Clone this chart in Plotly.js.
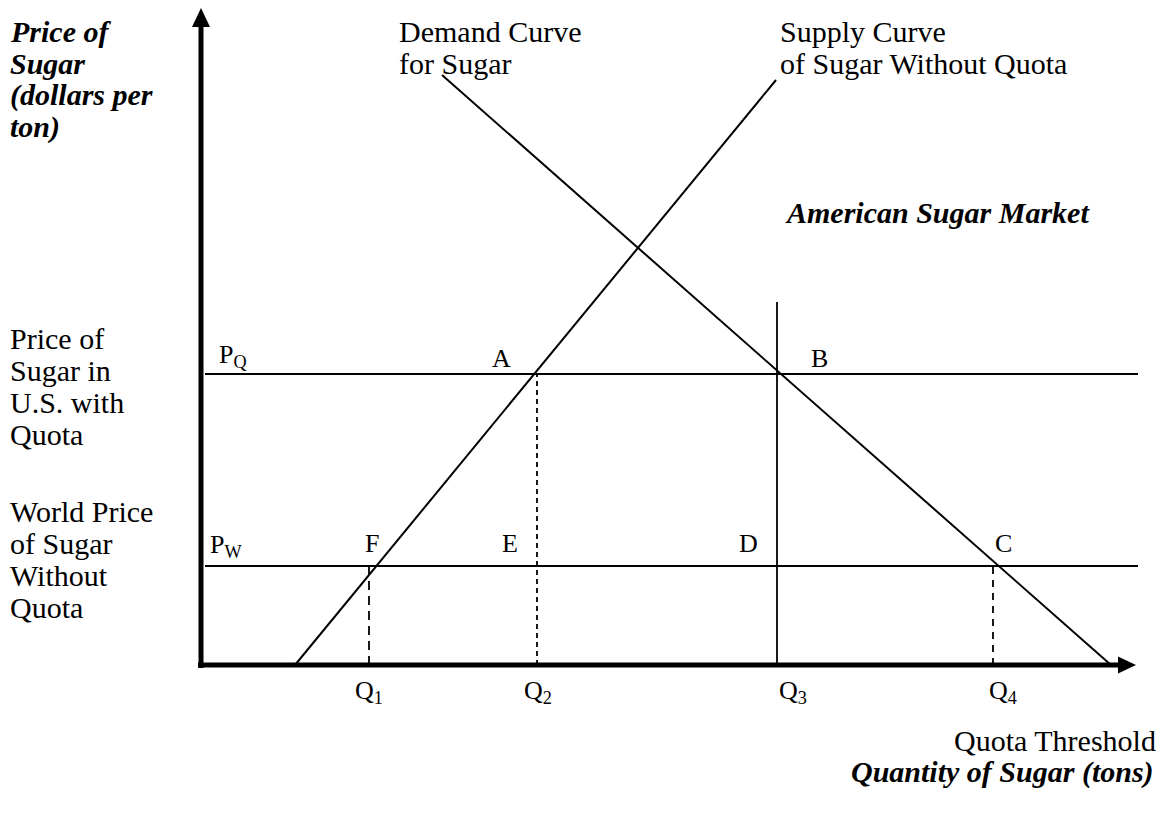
<!DOCTYPE html>
<html><head><meta charset="utf-8">
<script src="https://cdn.plot.ly/plotly-3.0.1.min.js"></script>
<style>html,body{margin:0;padding:0;background:#fff}#chart{width:1167px;height:813px}</style>
</head><body><div id="chart"></div>
<script>
// ---- data (chart units: quantity of sugar, price of sugar) ----
const quantityLabels = ['Q<sub>1</sub>', 'Q<sub>2</sub>', 'Q<sub>3</sub>', 'Q<sub>4</sub>'];
const quantities = [168, 336, 576, 792];
const priceLabels = ['P<sub>Q</sub>', 'P<sub>W</sub>'];
const prices = [291, 99];             // price with quota, world price
const supplyQ = [94, 575];
const supplyP = [0, 585];
const demandQ = [241, 910];
const demandP = [590, 0];
const priceLineQ = [4, 937];          // horizontal price lines span
const quotaThresholdTop = 363;        // top of vertical quota line at Q3
const axisMaxQ = 935, axisMaxP = 657;

const FONT = 'Liberation Serif, Times New Roman, serif';
const FS = 26;      // point / tick letters
const FS_T = 30;    // descriptive texts
const black = '#000';

const [Q1, Q2, Q3, Q4] = quantities;
const [PQ, PW] = prices;

function line(x, y, opts) {
  return Object.assign({type: 'scatter', mode: 'lines', x: x, y: y, hoverinfo: 'skip',
    line: {color: black, width: 1.8}, showlegend: false}, opts || {});
}

const traces = [
  line(supplyQ, supplyP, {line: {color: black, width: 2}}),
  line(demandQ, demandP, {line: {color: black, width: 2}}),
  line(priceLineQ, [PQ, PQ]),
  line(priceLineQ, [PW, PW]),
  line([Q3, Q3], [0, quotaThresholdTop]),
  line([Q1, Q1], [0, PW], {line: {color: black, width: 1.8, dash: '9px,6px'}}),
  line([Q2, Q2], [0, PQ], {line: {color: black, width: 1.8, dash: '5px,4px'}}),
  line([Q4, Q4], [0, PW], {line: {color: black, width: 1.8, dash: '7px,6px'}})
];

// pixel helpers for free text (layout only)
const X0 = 201, Y0 = 665;
const dx = px => px - X0;
const dy = py => Y0 - py;

function txt(text, x, y, xanchor, bold, size) {
  return {text: bold ? '<b><i>' + text + '</i></b>' : text, x: x, y: y, xref: 'x', yref: 'y',
    xanchor: xanchor || 'left', yanchor: 'middle', showarrow: false,
    font: {family: FONT, size: size || FS, color: black}};
}

const ann = [];
const LS = 32;
// vertical axis title
['Price of', 'Sugar', '(dollars per', 'ton)'].forEach((t, i) => ann.push(txt(t, dx(8), dy(31 + i * LS), 'left', true, FS_T)));
['Price of', 'Sugar in', 'U.S. with', 'Quota'].forEach((t, i) => ann.push(txt(t, dx(8), dy(338 + i * LS), 'left', false, FS_T)));
['World Price', 'of Sugar', 'Without', 'Quota'].forEach((t, i) => ann.push(txt(t, dx(8), dy(511 + i * LS), 'left', false, FS_T)));
ann.push(txt('Demand Curve', dx(397), dy(31), 'left', false, FS_T));
ann.push(txt('for Sugar', dx(397), dy(31 + LS), 'left', false, FS_T));
ann.push(txt('Supply Curve', dx(778), dy(31), 'left', false, FS_T));
ann.push(txt('of Sugar Without Quota', dx(778), dy(31 + LS), 'left', false, FS_T));
ann.push(txt('American Sugar Market', dx(783), dy(212), 'left', true, FS_T));
ann.push(txt('Quota Threshold', dx(1158), dy(740), 'right', false, FS_T));
ann.push(txt('Quantity of Sugar (tons)', dx(1156), dy(772), 'right', true, FS_T));

// point labels
ann.push(txt(priceLabels[0], 16, PQ + 18));
ann.push(txt(priceLabels[1], 7, PW + 20));
ann.push(txt('A', Q2 - 36, PQ + 16, 'center'));
ann.push(txt('B', Q3 + 42, PQ + 16, 'center'));
ann.push(txt('F', Q1 + 3, PW + 23, 'center'));
ann.push(txt('E', Q2 - 27, PW + 23, 'center'));
ann.push(txt('D', Q3 - 29, PW + 23, 'center'));
ann.push(txt('C', Q4 + 10, PW + 23, 'center'));
const qOffsets = [-16, -15, 0, -6];
quantities.forEach((q, i) => ann.push(txt(quantityLabels[i], q + qOffsets[i], -27)));

const shapes = [
  {type: 'line', x0: 0, x1: 0, y0: -3, y1: axisMaxP - 19, line: {color: black, width: 5}},
  {type: 'line', x0: -3, x1: axisMaxQ - 18, y0: 0, y1: 0, line: {color: black, width: 5}},
  {type: 'path', path: `M -9 ${axisMaxP - 19} L 9 ${axisMaxP - 19} L 0 ${axisMaxP} Z`, fillcolor: black, line: {width: 0}},
  {type: 'path', path: `M ${axisMaxQ - 18} -8.5 L ${axisMaxQ - 18} 8.5 L ${axisMaxQ} 0 Z`, fillcolor: black, line: {width: 0}}
];

const layout = {
  width: 1167, height: 813,
  margin: {l: 0, r: 0, t: 0, b: 0},
  paper_bgcolor: '#fff', plot_bgcolor: '#fff',
  xaxis: {range: [-201, 966], visible: false, fixedrange: true},
  yaxis: {range: [-148, 665], visible: false, fixedrange: true},
  showlegend: false,
  annotations: ann,
  shapes: shapes
};

Plotly.newPlot('chart', traces, layout, {staticPlot: true});
</script>
</body></html>
